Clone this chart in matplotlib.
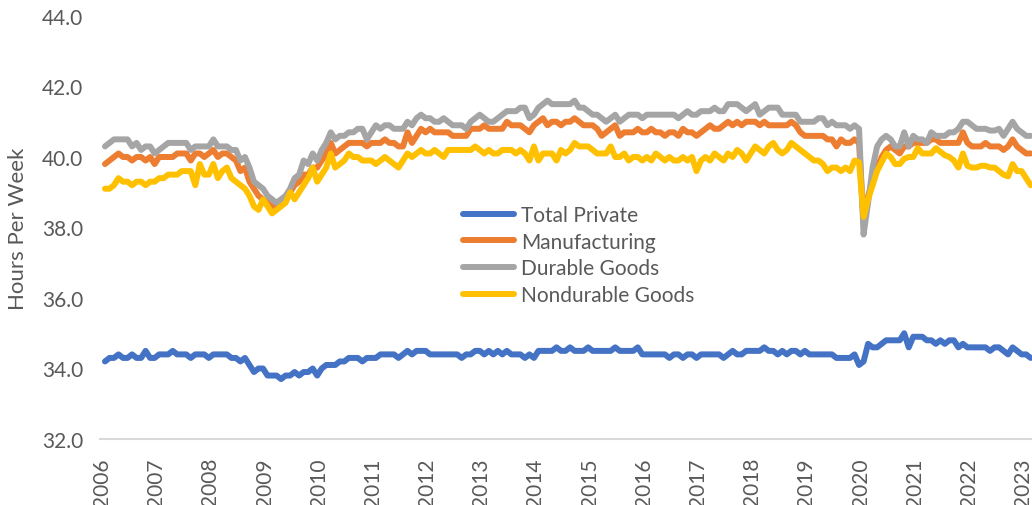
import matplotlib
matplotlib.use("Agg")
import matplotlib.pyplot as plt
import matplotlib.transforms as mtransforms

# monthly average weekly hours, starting spring 2006
total_private = [
    34.2, 34.3, 34.3, 34.4, 34.3, 34.3, 34.4, 34.3, 34.3, 34.5, 34.3, 34.3,
    34.4, 34.4, 34.4, 34.5, 34.4, 34.4, 34.4, 34.3, 34.4, 34.4, 34.4, 34.3,
    34.4, 34.4, 34.4, 34.4, 34.3, 34.3, 34.2, 34.3, 34.1, 33.9, 34.0, 34.0,
    33.8, 33.8, 33.8, 33.7, 33.8, 33.8, 33.9, 33.8, 33.9, 33.9, 34.0, 33.8,
    34.0, 34.1, 34.1, 34.1, 34.2, 34.2, 34.3, 34.3, 34.3, 34.2, 34.3, 34.3,
    34.3, 34.4, 34.4, 34.4, 34.4, 34.3, 34.4, 34.5, 34.4, 34.5, 34.5, 34.5,
    34.4, 34.4, 34.4, 34.4, 34.4, 34.4, 34.4, 34.3, 34.4, 34.4, 34.5, 34.5,
    34.4, 34.5, 34.4, 34.5, 34.4, 34.5, 34.4, 34.4, 34.4, 34.3, 34.4, 34.3,
    34.5, 34.5, 34.5, 34.5, 34.6, 34.5, 34.5, 34.6, 34.5, 34.5, 34.5, 34.6,
    34.5, 34.5, 34.5, 34.5, 34.5, 34.6, 34.5, 34.5, 34.5, 34.5, 34.6, 34.4,
    34.4, 34.4, 34.4, 34.4, 34.4, 34.3, 34.4, 34.4, 34.3, 34.4, 34.4, 34.3,
    34.4, 34.4, 34.4, 34.4, 34.4, 34.3, 34.4, 34.5, 34.4, 34.4, 34.5, 34.5,
    34.5, 34.5, 34.6, 34.5, 34.5, 34.4, 34.5, 34.4, 34.5, 34.5, 34.4, 34.5,
    34.4, 34.4, 34.4, 34.4, 34.4, 34.4, 34.3, 34.3, 34.3, 34.3, 34.4, 34.1,
    34.2, 34.7, 34.6, 34.6, 34.7, 34.8, 34.8, 34.8, 34.8, 35.0, 34.6, 34.9,
    34.9, 34.9, 34.8, 34.8, 34.7, 34.8, 34.7, 34.8, 34.8, 34.6, 34.7, 34.6,
    34.6, 34.6, 34.6, 34.6, 34.5, 34.6, 34.6, 34.5, 34.4, 34.6, 34.5, 34.4,
    34.4, 34.3,
]

manufacturing = [
    39.8, 39.9, 40.0, 40.1, 40.0, 40.0, 39.9, 40.0, 40.0, 39.9, 40.0, 39.8,
    40.0, 40.0, 40.0, 40.0, 40.1, 40.1, 40.1, 39.9, 40.1, 40.1, 40.0, 40.1,
    40.2, 40.0, 40.1, 40.1, 40.0, 39.9, 39.6, 39.7, 39.3, 39.1, 38.9, 38.8,
    38.7, 38.6, 38.6, 38.7, 38.8, 39.0, 39.2, 39.3, 39.5, 39.5, 39.7, 39.7,
    39.9, 40.1, 40.4, 40.1, 40.2, 40.3, 40.4, 40.4, 40.4, 40.4, 40.3, 40.4,
    40.4, 40.4, 40.5, 40.4, 40.4, 40.3, 40.3, 40.7, 40.4, 40.6, 40.8, 40.7,
    40.8, 40.7, 40.7, 40.7, 40.7, 40.6, 40.6, 40.6, 40.6, 40.8, 40.8, 40.8,
    40.9, 40.8, 40.8, 40.8, 40.8, 41.0, 40.9, 40.9, 40.9, 40.8, 40.7, 40.9,
    41.0, 41.1, 40.9, 41.0, 41.0, 40.9, 41.0, 41.0, 41.1, 41.0, 40.9, 40.9,
    40.9, 40.8, 40.6, 40.7, 40.8, 40.9, 40.6, 40.7, 40.7, 40.7, 40.8, 40.7,
    40.7, 40.8, 40.7, 40.7, 40.6, 40.7, 40.7, 40.6, 40.8, 40.7, 40.7, 40.6,
    40.7, 40.8, 40.9, 40.8, 40.8, 40.9, 41.0, 40.9, 41.0, 40.9, 41.0, 41.0,
    41.0, 40.9, 41.0, 40.9, 40.9, 40.9, 40.9, 40.9, 41.0, 40.9, 40.7, 40.6,
    40.6, 40.6, 40.6, 40.6, 40.5, 40.5, 40.3, 40.5, 40.4, 40.4, 40.5, 40.4,
    38.1, 38.9, 39.3, 39.7, 40.0, 40.2, 40.3, 40.2, 40.1, 40.3, 40.3, 40.4,
    40.4, 40.4, 40.4, 40.5, 40.5, 40.4, 40.4, 40.4, 40.4, 40.4, 40.7, 40.4,
    40.3, 40.3, 40.3, 40.4, 40.3, 40.3, 40.3, 40.2, 40.3, 40.5, 40.3, 40.2,
    40.1, 40.1,
]

durable_goods = [
    40.3, 40.4, 40.5, 40.5, 40.5, 40.5, 40.3, 40.4, 40.2, 40.3, 40.3, 40.1,
    40.2, 40.3, 40.4, 40.4, 40.4, 40.4, 40.4, 40.2, 40.3, 40.3, 40.3, 40.3,
    40.5, 40.3, 40.3, 40.3, 40.2, 40.2, 39.9, 40.0, 39.7, 39.3, 39.2, 39.1,
    38.9, 38.8, 38.7, 38.8, 38.9, 39.1, 39.4, 39.5, 39.9, 39.8, 40.1, 39.9,
    40.2, 40.4, 40.7, 40.5, 40.6, 40.6, 40.7, 40.7, 40.8, 40.8, 40.5, 40.7,
    40.9, 40.8, 40.9, 40.9, 40.8, 40.8, 40.8, 41.0, 40.9, 41.1, 41.2, 41.1,
    41.1, 41.0, 41.0, 41.1, 41.0, 40.9, 40.9, 40.9, 40.8, 41.0, 41.1, 41.2,
    41.1, 41.0, 41.0, 41.1, 41.2, 41.3, 41.3, 41.3, 41.4, 41.4, 41.1, 41.2,
    41.4, 41.5, 41.6, 41.5, 41.5, 41.5, 41.5, 41.5, 41.6, 41.4, 41.4, 41.3,
    41.2, 41.2, 41.1, 41.0, 41.1, 41.2, 41.0, 41.1, 41.2, 41.2, 41.2, 41.1,
    41.2, 41.2, 41.2, 41.2, 41.2, 41.2, 41.2, 41.1, 41.2, 41.3, 41.2, 41.2,
    41.3, 41.3, 41.3, 41.4, 41.3, 41.3, 41.5, 41.5, 41.5, 41.4, 41.3, 41.4,
    41.5, 41.2, 41.3, 41.4, 41.4, 41.4, 41.2, 41.2, 41.2, 41.2, 41.0, 41.0,
    41.0, 41.0, 41.1, 41.1, 40.9, 41.0, 40.9, 40.9, 40.9, 40.8, 40.9, 40.8,
    37.8, 38.7, 39.7, 40.3, 40.5, 40.6, 40.5, 40.3, 40.3, 40.7, 40.3, 40.6,
    40.5, 40.5, 40.4, 40.7, 40.6, 40.6, 40.6, 40.7, 40.7, 40.8, 41.0, 41.0,
    40.9, 40.8, 40.8, 40.8, 40.75, 40.75, 40.8, 40.6, 40.8, 41.0, 40.8, 40.7,
    40.6, 40.6,
]

nondurable_goods = [
    39.1, 39.1, 39.2, 39.4, 39.3, 39.3, 39.2, 39.3, 39.3, 39.2, 39.3, 39.3,
    39.4, 39.4, 39.5, 39.5, 39.5, 39.6, 39.6, 39.6, 39.2, 39.8, 39.5, 39.5,
    39.8, 39.4, 39.6, 39.7, 39.4, 39.3, 39.2, 39.1, 38.9, 38.6, 38.5, 38.8,
    38.6, 38.4, 38.5, 38.6, 38.7, 39.0, 38.8, 39.0, 39.2, 39.4, 39.7, 39.3,
    39.5, 39.7, 40.1, 39.7, 39.8, 39.9, 40.1, 40.0, 40.0, 39.9, 39.9, 39.9,
    39.8, 39.9, 40.0, 39.9, 39.8, 39.7, 39.9, 40.1, 40.0, 40.1, 40.2, 40.1,
    40.1, 40.2, 40.1, 40.0, 40.2, 40.2, 40.2, 40.2, 40.2, 40.2, 40.3, 40.2,
    40.1, 40.2, 40.1, 40.1, 40.2, 40.2, 40.2, 40.1, 40.2, 40.1, 39.9, 40.3,
    39.9, 40.1, 40.1, 40.1, 39.9, 40.2, 40.1, 40.2, 40.4, 40.3, 40.3, 40.3,
    40.2, 40.1, 40.1, 40.1, 40.3, 40.0, 40.0, 40.1, 39.9, 40.0, 40.0, 39.9,
    40.0, 39.9, 40.1, 40.0, 39.9, 40.0, 39.9, 39.9, 40.0, 39.9, 40.0, 39.6,
    39.9, 40.0, 39.9, 40.1, 40.0, 39.9, 40.1, 40.0, 40.2, 40.1, 39.9, 40.1,
    40.3, 40.2, 40.1, 40.3, 40.4, 40.2, 40.1, 40.2, 40.4, 40.3, 40.2, 40.1,
    40.0, 39.9, 39.9, 39.8, 39.6, 39.7, 39.7, 39.6, 39.7, 39.6, 39.9, 39.85,
    38.3, 38.8, 39.2, 39.6, 39.85, 40.1, 40.0, 39.8, 39.8, 39.95, 40.0, 40.0,
    40.25, 40.1, 40.1, 40.1, 40.25, 40.15, 40.05, 40.0, 39.9, 39.7, 40.1, 39.75,
    39.7, 39.7, 39.75, 39.75, 39.7, 39.7, 39.6, 39.5, 39.45, 39.8, 39.6, 39.6,
    39.4, 39.2,
]

years = [str(y) for y in range(2006, 2024)]

series = [
    ("Total Private", total_private, "#4472C4"),
    ("Manufacturing", manufacturing, "#ED7D31"),
    ("Durable Goods", durable_goods, "#A5A5A5"),
    ("Nondurable Goods", nondurable_goods, "#FFC000"),
]

grey_txt = "#595959"
plt.rcParams["font.family"] = ["Lato", "DejaVu Sans"]

fig = plt.figure(figsize=(10.32, 5.06), dpi=100)
ax = fig.add_axes([100 / 1032, 1 - 440 / 506, 1 - 100 / 1032, (440 - 17) / 506])

for name, vals, col in series:
    ax.plot(range(len(vals)), vals, color=col, lw=4.3, label=name,
            solid_joinstyle="round", solid_capstyle="round")

ax.set_xlim(-1.1, 205.3)
ax.set_ylim(32, 44)
ax.set_yticks(range(32, 45, 2))
ax.set_yticklabels(["%.1f" % v for v in range(32, 45, 2)])
ax.set_xticks(range(0, 12 * len(years), 12))
ax.set_xticklabels(years, rotation=90, va="top", ha="center")

ax.tick_params(axis="y", length=0, pad=12, labelsize=15, labelcolor=grey_txt)
ax.tick_params(axis="x", length=0, pad=13, labelsize=15, labelcolor=grey_txt)
shift = mtransforms.ScaledTranslation(-3 / 100, 0, fig.dpi_scale_trans)
for lab in ax.get_xticklabels():
    lab.set_transform(lab.get_transform() + shift)

for s in ["left", "right", "top"]:
    ax.spines[s].set_visible(False)
ax.spines["bottom"].set_color("#D9D9D9")
ax.spines["bottom"].set_linewidth(1.5)

fig.text(18 / 1032, 1 - 229 / 506, "Hours Per Week", rotation=90,
         ha="center", va="center", fontsize=16, color=grey_txt)

leg = fig.legend(loc="upper left", bbox_to_anchor=(463 / 1032, 1 - 206 / 506),
                 frameon=False, fontsize=15, handlelength=2.45, handletextpad=0.35,
                 labelspacing=0.32, borderpad=0, borderaxespad=0)
for t in leg.get_texts():
    t.set_color(grey_txt)

fig.savefig("out.png", dpi=100)
